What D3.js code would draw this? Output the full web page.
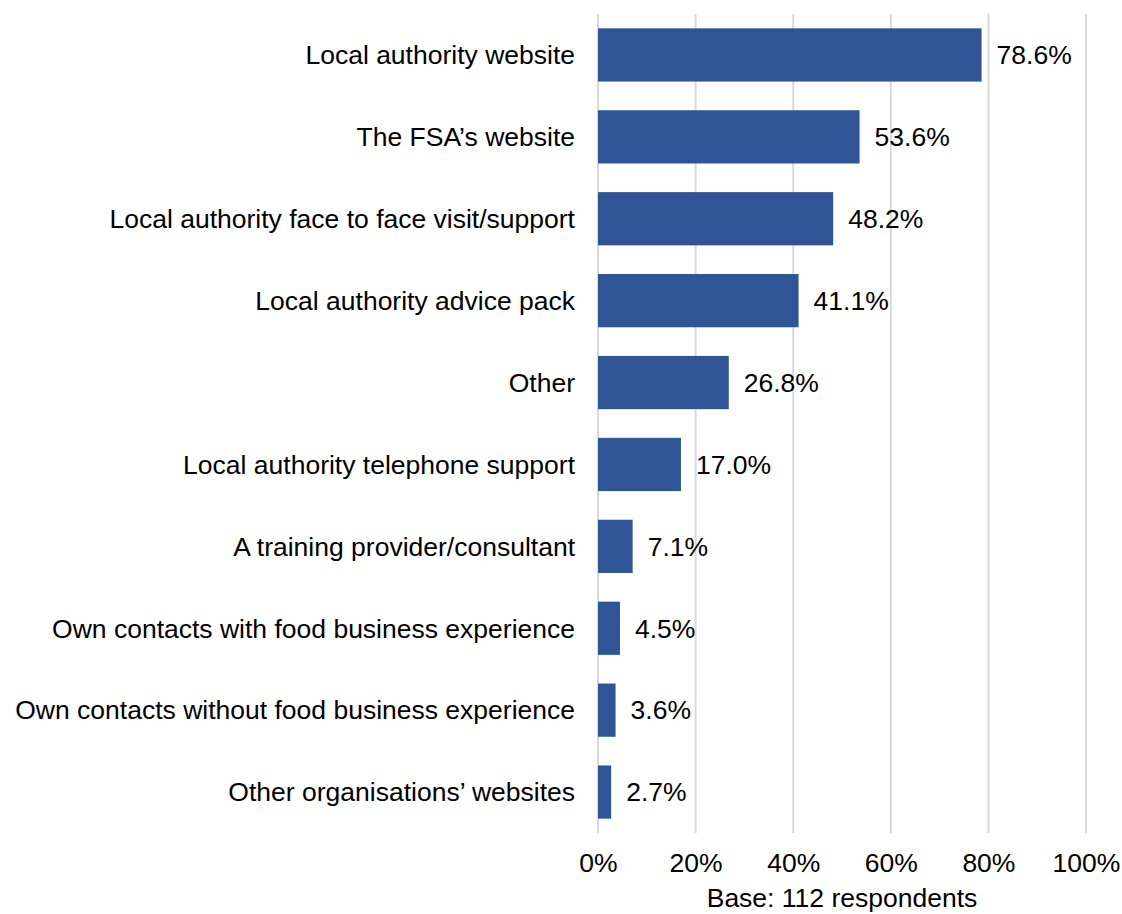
<!DOCTYPE html>
<html>
<head>
<meta charset="utf-8">
<script src="https://cdn.jsdelivr.net/npm/d3@7"></script>
<style>
  html, body { margin: 0; padding: 0; background: #fff; }
  svg { display: block; font-family: "Liberation Sans", Arial, sans-serif; }
</style>
</head>
<body>
<svg id="chart" width="1122" height="914"></svg>
<script>
// Sources of advice used (share of respondents)
const categories = [
  "Local authority website",
  "The FSA\u2019s website",
  "Local authority face to face visit/support",
  "Local authority advice pack",
  "Other",
  "Local authority telephone support",
  "A training provider/consultant",
  "Own contacts with food business experience",
  "Own contacts without food business experience",
  "Other organisations\u2019 websites"
];
const values = [78.6, 53.6, 48.2, 41.1, 26.8, 17.0, 7.1, 4.5, 3.6, 2.7];
const tickValues = [0, 20, 40, 60, 80, 100];
const baseNote = "Base: 112 respondents";

const svg = d3.select("#chart");
const plotLeft = 598, plotRight = 1086, plotTop = 14, plotBottom = 833;
const fontSize = 26.5;

const x = d3.scaleLinear().domain([0, 100]).range([plotLeft, plotRight]);
const y = d3.scaleBand().domain(categories).range([plotTop, plotBottom]).paddingInner(0.35).paddingOuter(0.175);

// vertical gridlines
svg.append("g").selectAll("line").data(tickValues).join("line")
  .attr("x1", d => x(d)).attr("x2", d => x(d))
  .attr("y1", plotTop).attr("y2", plotBottom)
  .attr("stroke", "#d9d9d9").attr("stroke-width", 2);

// bars
svg.append("g").selectAll("rect").data(values).join("rect")
  .attr("x", x(0))
  .attr("y", (d, i) => y(categories[i]))
  .attr("width", d => x(d) - x(0))
  .attr("height", y.bandwidth())
  .attr("fill", "#2f5597");

// value labels
svg.append("g").selectAll("text").data(values).join("text")
  .attr("x", d => x(d) + 15)
  .attr("y", (d, i) => y(categories[i]) + y.bandwidth() / 2)
  .attr("dy", "0.35em")
  .attr("font-size", fontSize)
  .attr("fill", "#000")
  .text(d => d.toFixed(1) + "%");

// category axis labels
svg.append("g").selectAll("text").data(categories).join("text")
  .attr("x", plotLeft - 23)
  .attr("y", d => y(d) + y.bandwidth() / 2)
  .attr("dy", "0.35em")
  .attr("text-anchor", "end")
  .attr("font-size", fontSize)
  .attr("fill", "#000")
  .text(d => d);

// x axis tick labels
const xAxis = d3.axisBottom(x).tickValues(tickValues).tickFormat(d => d + "%").tickSize(0).tickPadding(0);
const gx = svg.append("g").attr("transform", `translate(0, 863)`).call(xAxis);
gx.select(".domain").remove();
gx.selectAll("text").attr("font-size", fontSize).attr("fill", "#000")
  .attr("font-family", "Liberation Sans, Arial, sans-serif").attr("dy", "0.35em");

// base note
svg.append("text")
  .attr("x", x(50))
  .attr("y", 907)
  .attr("font-size", fontSize)
  .attr("text-anchor", "middle")
  .attr("fill", "#000")
  .text(baseNote);
</script>
</body>
</html>
